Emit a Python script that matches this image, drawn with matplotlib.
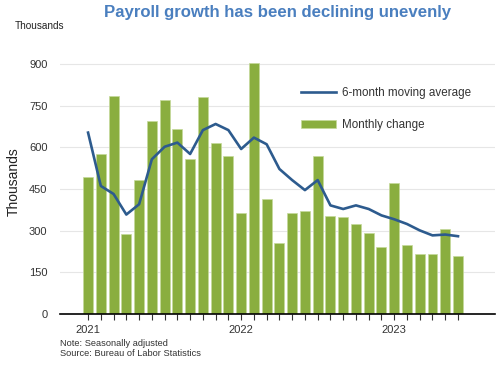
import numpy as np
import matplotlib
matplotlib.use("Agg")
import matplotlib.pyplot as plt

plt.rcParams['font.family'] = ['Liberation Sans', 'DejaVu Sans']

# monthly payroll change, Jan 2021 - Jun 2023 (thousands)
monthly = [494, 576, 785, 287, 482, 695, 770, 665, 558, 782, 614, 570,
           364, 904, 414, 254, 364, 371, 569, 353, 350, 325, 292, 240,
           472, 248, 217, 217, 306, 209]
moving_avg = [653, 461, 432, 358, 395, 557, 602, 617, 576, 662, 684, 662,
              594, 635, 611, 522, 482, 446, 482, 391, 378, 391, 378, 355,
              341, 324, 301, 283, 286, 280]
year_labels = ["2021", "2022", "2023"]
y_ticks = [0, 150, 300, 450, 600, 750, 900]

bar_color = "#8aae3f"
line_color = "#2d5b8e"
title_color = "#4a7fbf"

x = np.arange(len(monthly))

fig = plt.figure(figsize=(5, 3.65), dpi=100)
ax = fig.add_axes([0.12, 1 - 314 / 365, 0.87, 263.9 / 365])

ax.bar(x, monthly, width=0.78, color=bar_color, edgecolor="#c5d99a",
       linewidth=0.5, label="Monthly change", zorder=2)
ax.plot(x, moving_avg, color=line_color, linewidth=1.9,
        label="6-month moving average", zorder=3)

ax.set_ylim(0, 950)
ax.set_xlim(-2.2, 31.9)
ax.set_yticks(y_ticks)
ax.set_yticklabels([str(v) for v in y_ticks], fontsize=8, color="#333333")
ax.tick_params(axis="y", length=0, pad=9)
ax.yaxis.grid(True, color="#e6e6e6", linewidth=0.8, zorder=0)
ax.set_axisbelow(True)

ax.set_xticks([0, 12, 24])
ax.set_xticklabels(year_labels, fontsize=8, color="#333333")
ax.set_xticks(x, minor=True)
ax.tick_params(axis="x", which="both", length=4, width=0.8, color="#333333",
               direction="out", pad=4)

for s in ["top", "right", "left"]:
    ax.spines[s].set_visible(False)
ax.spines["bottom"].set_linewidth(1.2)
ax.spines["bottom"].set_color("black")

ax.set_ylabel("Thousands", fontsize=10, color="#222222", labelpad=6)

leg = ax.legend(loc="upper left", bbox_to_anchor=(0.53, 0.90), frameon=False,
                fontsize=8.4, handlelength=3.0, labelspacing=1.72,
                handletextpad=0.5)
for t in leg.get_texts():
    t.set_color("#333333")

fig.text(0.556, 1 - 12 / 365, "Payroll growth has been declining unevenly",
         ha="center", va="center", fontsize=12.1, fontweight="bold",
         color=title_color)
fig.text(0.03, 1 - 26 / 365, "Thousands", ha="left", va="center",
         fontsize=7.2, color="#222222")
fig.text(0.12, 1 - 343 / 365, "Note: Seasonally adjusted", ha="left",
         va="center", fontsize=6.7, color="#333333")
fig.text(0.12, 1 - 354 / 365, "Source: Bureau of Labor Statistics", ha="left",
         va="center", fontsize=6.7, color="#333333")

fig.savefig("out.png", dpi=100)
